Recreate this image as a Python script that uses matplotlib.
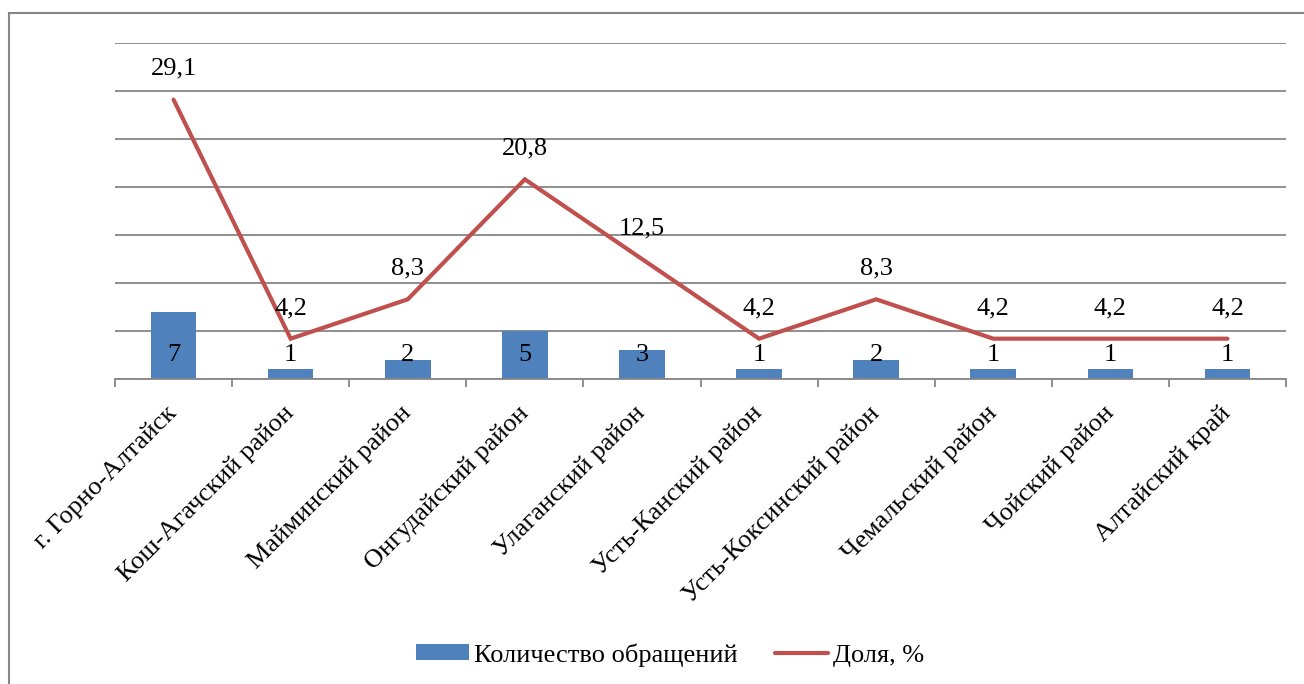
import matplotlib
matplotlib.use("Agg")
import matplotlib.pyplot as plt
from matplotlib.lines import Line2D
from matplotlib.patches import Patch
import numpy as np

categories = ["г. Горно-Алтайск", "Кош-Агачский район", "Майминский район",
              "Онгудайский район", "Улаганский район", "Усть-Канский район",
              "Усть-Коксинский район", "Чемальский район", "Чойский район",
              "Алтайский край"]
counts = [7, 1, 2, 5, 3, 1, 2, 1, 1, 1]
shares = [29.1, 4.2, 8.3, 20.8, 12.5, 4.2, 8.3, 4.2, 4.2, 4.2]
share_labels = ["29,1", "4,2", "8,3", "20,8", "12,5", "4,2", "8,3", "4,2", "4,2", "4,2"]

plt.rcParams['font.family'] = ['Liberation Serif', 'DejaVu Serif']
FS = 19

W, H = 1304, 684
fig = plt.figure(figsize=(W/100, H/100), dpi=100)
ax = fig.add_axes([115/W, 1-379/H, (1286-115)/W, (379-43)/H])

bar_c = '#4F81BD'
line_c = '#C0504D'
grid_c = '#868686'

x = np.arange(len(categories))
ax.bar(x, counts, width=0.39, color=bar_c, zorder=2)
ax.plot(x, shares, color=line_c, lw=3, zorder=3, solid_capstyle='round', solid_joinstyle='miter')

ax.set_xlim(-0.5, len(categories)-0.5)
ax.set_ylim(0, 35)
ax.set_yticks(np.arange(0, 36, 5))
ax.yaxis.grid(True, color=grid_c, lw=1.3, zorder=0)
ax.tick_params(axis='y', length=0, labelleft=False)
for s in ['left', 'right', 'top']:
    ax.spines[s].set_visible(False)
ax.spines['bottom'].set_color(grid_c)
ax.spines['bottom'].set_linewidth(1.3)

ax.set_xticks(np.arange(-0.5, len(categories), 1), minor=False)
ax.set_xticklabels([])
ax.tick_params(axis='x', which='major', length=6, color=grid_c, width=1.3, direction='out')
ax.set_xticks(x, minor=True)
ax.set_xticklabels(categories, minor=True, rotation=45, ha='right', va='center',
                   rotation_mode='anchor', fontsize=FS)
ax.tick_params(axis='x', which='minor', length=0, pad=22)

for xi, c in zip(x, counts):
    ax.text(xi, 2.5, str(c), ha='center', va='center', fontsize=FS, zorder=4)
for xi, v, lab in zip(x, shares, share_labels):
    ax.text(xi, v + 3.2, lab, ha='center', va='center', fontsize=FS, zorder=4)

handles = [Patch(facecolor=bar_c, edgecolor='none'),
           Line2D([0], [0], color=line_c, lw=3, solid_capstyle='round')]
fig.legend(handles, ["Количество обращений", "Доля, %"], loc='center',
           bbox_to_anchor=(670/W, 1-655/H), ncol=2, frameon=False, fontsize=FS,
           handlelength=2.0, handleheight=0.55, handletextpad=0.2, columnspacing=1.4)

# outer frame
fig.add_artist(Line2D([9/W, 9/W], [0, 1-13/H], color=grid_c, lw=1.5, transform=fig.transFigure))
fig.add_artist(Line2D([9/W, 1], [1-13/H, 1-13/H], color=grid_c, lw=1.5, transform=fig.transFigure))

fig.savefig("out.png", dpi=100)
